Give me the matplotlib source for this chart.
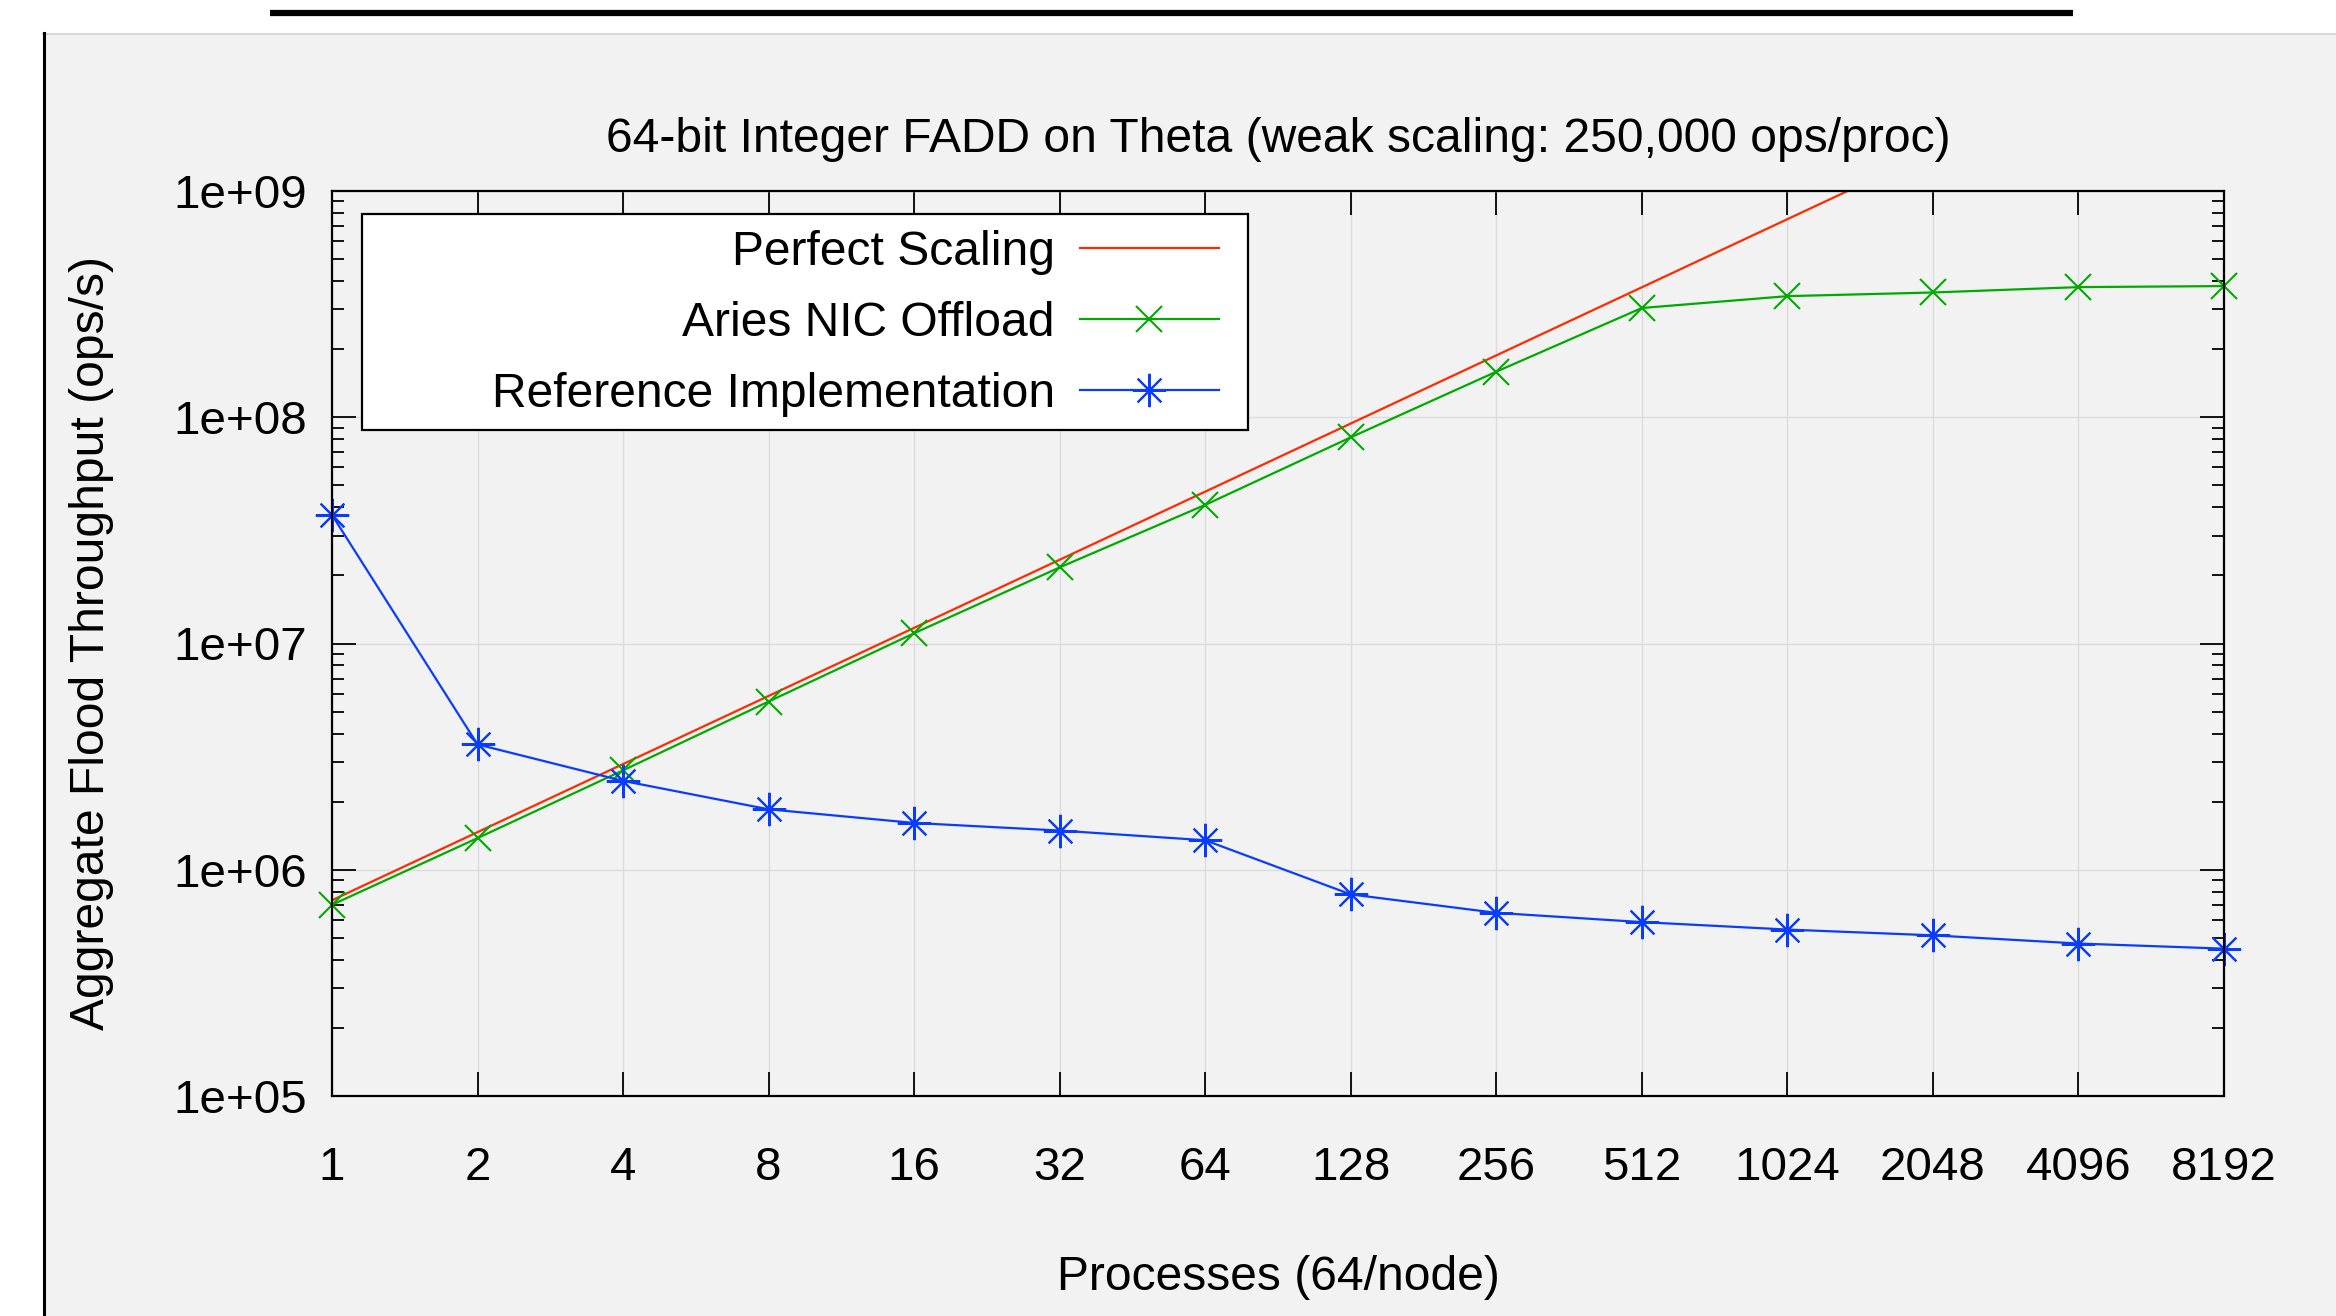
import matplotlib
matplotlib.use("Agg")
import matplotlib.pyplot as plt
from matplotlib.patches import Rectangle
from matplotlib.lines import Line2D
from matplotlib.ticker import FixedLocator, NullLocator, LogLocator, FixedFormatter, NullFormatter

plt.rcParams['font.family'] = ['Liberation Sans', 'DejaVu Sans']

# ---------------- data ----------------
processes = [1, 2, 4, 8, 16, 32, 64, 128, 256, 512, 1024, 2048, 4096, 8192]
x_tick_labels = ["1", "2", "4", "8", "16", "32", "64", "128", "256", "512",
                 "1024", "2048", "4096", "8192"]
perfect_scaling = [7.33e5, 1.466e6, 2.932e6, 5.864e6, 1.1728e7, 2.3456e7, 4.6912e7,
                   9.3824e7, 1.87648e8, 3.75296e8, 7.50592e8, 1.501184e9,
                   3.002368e9, 6.004736e9]
aries_offload = [7.0e5, 1.38e6, 2.75e6, 5.54e6, 1.11e7, 2.17e7, 4.10e7, 8.15e7,
                 1.59e8, 3.04e8, 3.43e8, 3.56e8, 3.76e8, 3.80e8]
reference_impl = [3.70e7, 3.58e6, 2.47e6, 1.85e6, 1.61e6, 1.49e6, 1.35e6, 7.78e5,
                  6.45e5, 5.87e5, 5.44e5, 5.13e5, 4.72e5, 4.48e5]
y_ticks = [1e5, 1e6, 1e7, 1e8, 1e9]
y_tick_labels = ["1e+05", "1e+06", "1e+07", "1e+08", "1e+09"]

title = "64-bit Integer FADD on Theta (weak scaling: 250,000 ops/proc)"
xlabel = "Processes (64/node)"
ylabel = "Aggregate Flood Throughput (ops/s)"
series_names = ["Perfect Scaling", "Aries NIC Offload", "Reference Implementation"]

# ---------------- figure ----------------
W, H = 2336, 1316
DPI = 100
fig = plt.figure(figsize=(W / DPI, H / DPI), dpi=DPI, facecolor="white")

def fx(px):
    return px / W

def fy(py):
    return 1 - py / H

FS = 34.6
TFS = 34.2
BG = "#f2f2f2"

# panel background
panel = Rectangle((fx(43), 0), 1 - fx(43), fy(33), transform=fig.transFigure,
                  facecolor=BG, edgecolor="none", zorder=0)
fig.add_artist(panel)
fig.add_artist(Line2D([fx(43), 1], [fy(33.5), fy(33.5)], transform=fig.transFigure,
                      color="#d8d8d8", lw=1.5, zorder=1))
fig.add_artist(Line2D([fx(44), fx(44)], [0, fy(33)], transform=fig.transFigure,
                      color="black", lw=2.2, zorder=1))
# underline of the cropped slide heading
fig.add_artist(Line2D([fx(270), fx(2073)], [fy(13), fy(13)], transform=fig.transFigure,
                      color="black", lw=4.5, solid_capstyle="butt", zorder=1))

ax_l, ax_r, ax_t, ax_b = 332, 2224, 191, 1096
ax = fig.add_axes([fx(ax_l), fy(ax_b), fx(ax_r) - fx(ax_l), fy(ax_t) - fy(ax_b)])
ax.set_facecolor(BG)

ax.set_xscale("log", base=2)
ax.set_yscale("log")
ax.set_xlim(1, 8192)
ax.set_ylim(1e5, 1e9)

red = "#ff2a00"
green = "#00aa00"
blue = "#0a3cff"

l1, = ax.plot(processes, perfect_scaling, color=red, lw=1.6, zorder=3)
l2, = ax.plot(processes, aries_offload, color=green, lw=1.6, marker="x",
              markersize=19, markeredgewidth=1.5, clip_on=False, zorder=4)
l3, = ax.plot(processes, reference_impl, color=blue, lw=1.6, marker=(8, 2, 0),
              markersize=24, markeredgewidth=1.5, clip_on=False, zorder=4)

# ticks
ax.xaxis.set_major_locator(FixedLocator(processes))
ax.xaxis.set_major_formatter(FixedFormatter(x_tick_labels))
ax.xaxis.set_minor_locator(NullLocator())
ax.yaxis.set_major_locator(FixedLocator(y_ticks))
ax.yaxis.set_major_formatter(FixedFormatter(y_tick_labels))
ax.yaxis.set_minor_locator(LogLocator(base=10, subs=[2, 3, 4, 5, 6, 7, 8, 9], numticks=20))
ax.yaxis.set_minor_formatter(NullFormatter())

ax.tick_params(which="major", direction="in", length=17, width=1.3, top=True, right=True,
               labelsize=TFS, color="black")
ax.tick_params(which="minor", direction="in", length=8.5, width=1.3, top=True, right=True)
ax.tick_params(axis="x", which="major", pad=36)
ax.tick_params(axis="y", which="major", pad=18)

for s in ax.spines.values():
    s.set_linewidth(1.6)
    s.set_color("black")
    s.set_zorder(6)

ax.grid(True, which="major", color="#dcdcdc", lw=1.0, zorder=1)
ax.set_axisbelow(True)

# texts
fig.text(fx((ax_l + ax_r) / 2), fy(139), title, ha="center", va="center", fontsize=FS)
fig.text(fx((ax_l + ax_r) / 2), fy(1278), xlabel, ha="center", va="center", fontsize=FS)
fig.text(fx(92), fy(643), ylabel, ha="center", va="center", rotation=90, fontsize=FS)

# legend frame
x0 = (362 - ax_l) / (ax_r - ax_l)
x1 = (1248 - ax_l) / (ax_r - ax_l)
y0 = 1 - (430 - ax_t) / (ax_b - ax_t)
y1 = 1 - (214 - ax_t) / (ax_b - ax_t)
ax.add_patch(Rectangle((x0, y0), x1 - x0, y1 - y0, transform=ax.transAxes,
                       facecolor="white", edgecolor="black", lw=1.6, zorder=7, clip_on=False))
leg = ax.legend([l1, l2, l3], series_names, loc="center right", frameon=False,
                markerfirst=False, numpoints=1, fontsize=FS, handlelength=2.9,
                handletextpad=0.52, labelspacing=0.54, borderpad=0, borderaxespad=0,
                bbox_to_anchor=((1219 - ax_l) / (ax_r - ax_l), 1 - (323.5 - ax_t) / (ax_b - ax_t)))
leg.set_zorder(8)

fig.savefig("out.png", dpi=DPI, facecolor="white")
